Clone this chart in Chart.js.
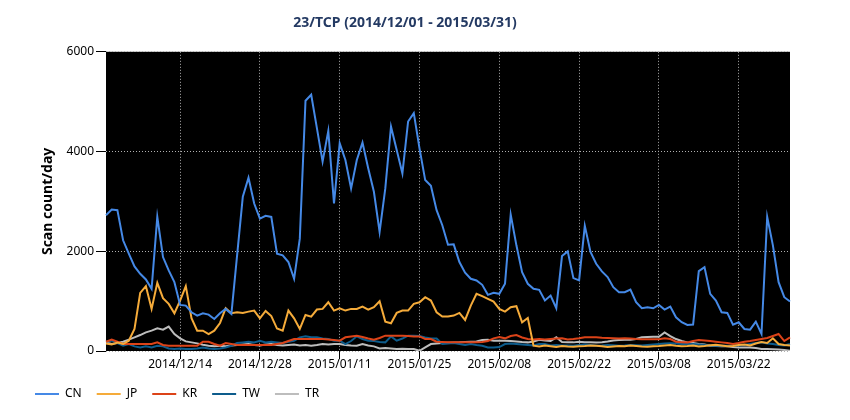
<!DOCTYPE html>
<html>
<head>
<meta charset="utf-8">
<title>23/TCP</title>
<script src="https://cdn.jsdelivr.net/npm/chart.js@4.4.1/dist/chart.umd.min.js"></script>
<style>
  body { margin: 0; background: #fff; }
  #wrap { width: 850px; height: 420px; }
</style>
</head>
<body>
<div id="wrap"><canvas id="scanChart" width="850" height="420"></canvas></div>
<script>
// daily scan counts, 2014/12/01 - 2015/03/31
const startDate = "2014-12-01";
const dayCount = 121;
const tickLabels = ["2014/12/14", "2014/12/28", "2015/01/11", "2015/01/25",
                    "2015/02/08", "2015/02/22", "2015/03/08", "2015/03/22"];
const yTicks = [0, 2000, 4000, 6000];

const cn = [
  2723, 2837, 2824, 2220, 1951, 1696, 1549, 1435, 1247, 2689,
  1884, 1616, 1381, 925, 911, 777, 710, 757, 730, 643,
  757, 844, 743, 1918, 3092, 3474, 2958, 2656, 2710, 2689,
  1951, 1918, 1784, 1448, 2253, 5018, 5139, 4468, 3797, 4414,
  2958, 4165, 3830, 3260, 3830, 4179, 3663, 3193, 2387, 3260,
  4502, 4031, 3562, 4602, 4770, 4065, 3428, 3314, 2824, 2522,
  2132, 2139, 1784, 1569, 1448, 1415, 1327, 1126, 1166, 1146,
  1348, 2737, 2119, 1582, 1348, 1247, 1227, 1012, 1112, 857,
  1904, 1998, 1461, 1415, 2509, 1985, 1750, 1596, 1482, 1280,
  1180, 1180, 1233, 978, 857, 877, 857, 925, 831, 891,
  676, 576, 522, 529, 1602, 1683, 1146, 1012, 777, 764,
  529, 576, 442, 428, 589, 341, 2689, 2119, 1381, 1079, 992
];
const jp = [
  150, 130, 170, 140, 207, 442, 1166, 1300, 844, 1368,
  1059, 945, 757, 1012, 1300, 656, 408, 408, 341, 408,
  562, 858, 757, 777, 764, 790, 811, 656, 804, 700,
  450, 408, 811, 656, 442, 723, 690, 831, 844, 978,
  811, 858, 811, 844, 844, 891, 831, 878, 998, 589,
  556, 764, 811, 811, 945, 978, 1079, 1012, 777, 690,
  690, 710, 764, 623, 911, 1146, 1099, 1045, 992, 844,
  790, 878, 898, 576, 663, 106, 90, 110, 95, 80,
  100, 90, 85, 95, 100, 110, 105, 95, 80, 90,
  100, 95, 110, 100, 90, 85, 95, 100, 110, 120,
  105, 95, 100, 110, 90, 100, 115, 125, 110, 95,
  100, 120, 130, 110, 150, 180, 160, 254, 140, 120, 110
];
const kr = [
  186, 227, 186, 140, 140, 140, 140, 140, 140, 173,
  120, 106, 106, 106, 106, 106, 106, 186, 186, 140,
  106, 160, 140, 120, 120, 120, 120, 120, 120, 120,
  140, 160, 200, 240, 240, 240, 240, 240, 240, 230,
  220, 207, 274, 290, 307, 280, 250, 227, 260, 307,
  307, 307, 307, 300, 293, 293, 240, 240, 187, 180,
  173, 173, 173, 173, 175, 175, 180, 200, 254, 280,
  254, 300, 320, 270, 240, 230, 240, 230, 240, 250,
  254, 230, 240, 254, 274, 274, 274, 265, 260, 254,
  250, 254, 250, 240, 235, 235, 235, 235, 254, 240,
  187, 175, 173, 200, 220, 210, 200, 187, 173, 160,
  140, 160, 187, 200, 220, 240, 260, 300, 341, 200, 274
];
const tw = [
  186, 207, 160, 106, 140, 93, 72, 93, 72, 106,
  93, 52, 39, 52, 39, 39, 52, 72, 52, 39,
  52, 72, 106, 160, 173, 186, 173, 207, 173, 186,
  173, 160, 186, 207, 274, 294, 274, 274, 250, 240,
  207, 207, 140, 200, 294, 240, 207, 200, 180, 173,
  294, 207, 250, 307, 307, 300, 270, 250, 250, 140,
  150, 160, 140, 120, 140, 120, 106, 72, 72, 80,
  140, 150, 140, 130, 120, 110, 140, 140, 110, 120,
  110, 110, 106, 120, 130, 120, 106, 110, 120, 115,
  106, 110, 120, 115, 110, 120, 130, 140, 150, 155,
  150, 140, 140, 140, 130, 120, 110, 106, 106, 106,
  106, 110, 120, 140, 160, 173, 150, 140, 120, 110, 140
];
const tr = [
  173, 140, 160, 186, 227, 273, 320, 374, 408, 454,
  428, 489, 341, 254, 193, 173, 153, 126, 106, 93,
  106, 93, 110, 120, 130, 140, 120, 110, 130, 140,
  120, 110, 120, 130, 110, 120, 106, 120, 140, 130,
  140, 140, 120, 110, 106, 140, 110, 93, 52, 60,
  52, 39, 45, 39, 39, 5, 72, 140, 150, 160,
  165, 170, 173, 180, 185, 190, 220, 227, 207, 207,
  207, 200, 190, 180, 173, 190, 227, 210, 200, 274,
  180, 175, 173, 186, 175, 175, 170, 175, 190, 210,
  220, 225, 227, 240, 274, 280, 285, 287, 374, 300,
  240, 200, 173, 160, 140, 130, 106, 100, 95, 93,
  80, 72, 70, 72, 60, 39, 39, 35, 30, 20, 5
];

// build the date labels
const labels = [];
const d0 = new Date(startDate + "T00:00:00Z");
for (let i = 0; i < dayCount; i++) {
    const d = new Date(d0.getTime() + i * 86400000);
    const mm = String(d.getUTCMonth() + 1).padStart(2, "0");
    const dd = String(d.getUTCDate()).padStart(2, "0");
    labels.push(d.getUTCFullYear() + "/" + mm + "/" + dd);
}

function series(label, data, color) {
    return {
        label: label,
        data: data,
        borderColor: color,
        backgroundColor: color,
        borderWidth: 2,
        pointRadius: 0,
        pointStyle: "line",
        tension: 0,
        fill: false
    };
}

// black plot area
const plotBackground = {
    id: "plotBackground",
    beforeDraw(chart) {
        const a = chart.chartArea;
        chart.ctx.save();
        chart.ctx.fillStyle = "#000";
        chart.ctx.fillRect(a.left, a.top, a.right - a.left, a.bottom - a.top);
        chart.ctx.restore();
    }
};

Chart.defaults.font.family = "'Noto Sans', sans-serif";
Chart.defaults.color = "#000";

new Chart(document.getElementById("scanChart"), {
    type: "line",
    data: {
        labels: labels,
        datasets: [
            series("CN", cn, "#4589e6"),
            series("JP", jp, "#f5ab3a"),
            series("KR", kr, "#dc4318"),
            series("TW", tw, "#0d5c8c"),
            series("TR", tr, "#bdbdbd")
        ]
    },
    options: {
        responsive: false,
        animation: false,
        devicePixelRatio: 1,
        layout: { padding: { left: 20, right: 60, top: 0, bottom: 10 } },
        plugins: {
            title: {
                display: true,
                text: "23/TCP (2014/12/01 - 2015/03/31)",
                color: "#243a63",
                font: { size: 14, weight: "bold" },
                padding: { top: 15, bottom: 20 }
            },
            legend: {
                position: "bottom",
                align: "start",
                labels: {
                    usePointStyle: true,
                    pointStyle: "line",
                    pointStyleWidth: 24,
                    boxWidth: 24,
                    padding: 15,
                    font: { size: 12 },
                    color: "#000"
                }
            },
            tooltip: { enabled: false }
        },
        scales: {
            x: {
                afterBuildTicks(scale) {
                    scale.ticks = scale.ticks.filter(t => tickLabels.includes(labels[t.value]));
                },
                afterFit(scale) { scale.height = 22; },
                ticks: { autoSkip: false, maxRotation: 0, padding: -2, font: { size: 12 } },
                grid: {
                    color: "#b0b0b0",
                    tickColor: "#000",
                    tickLength: 8,
                    lineWidth: 1
                },
                border: { display: false, dash: [1, 2] }
            },
            y: {
                min: 0,
                max: 6000,
                afterBuildTicks(scale) {
                    scale.ticks = yTicks.map(v => ({ value: v }));
                },
                afterFit(scale) { scale.width = 86; },
                title: {
                    display: true,
                    text: "Scan count/day",
                    font: { size: 14, weight: "bold" },
                    padding: { top: 20, bottom: 0 }
                },
                ticks: {
                    padding: 2,
                    font: { size: 12 },
                    callback: v => String(v)
                },
                grid: {
                    color: "#b0b0b0",
                    tickColor: "#000",
                    tickLength: 10,
                    lineWidth: 1
                },
                border: { display: false, dash: [1, 2] }
            }
        }
    },
    plugins: [plotBackground]
});
</script>
</body>
</html>
